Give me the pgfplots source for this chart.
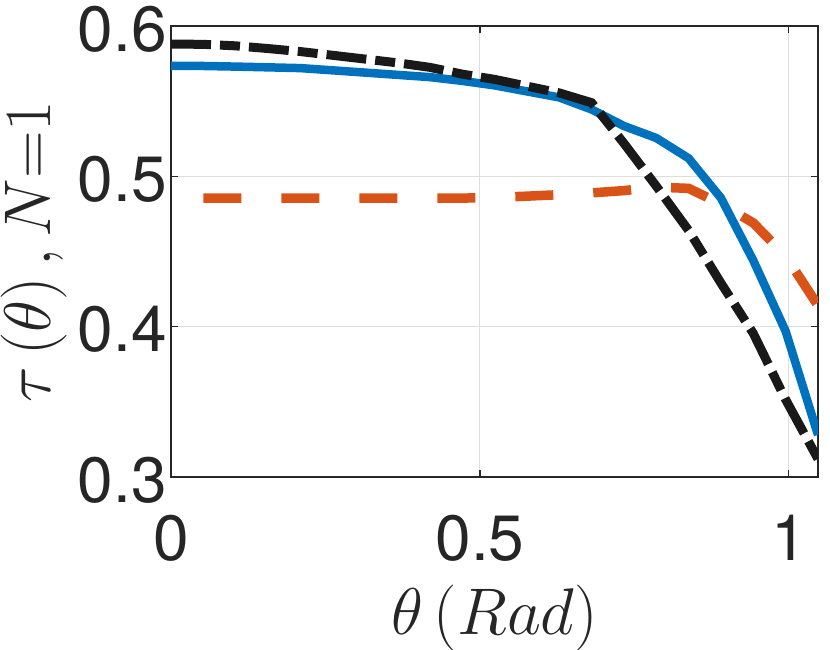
\RequirePackage{fix-cm}
\documentclass[border=0pt]{standalone}
\usepackage[no-math]{fontspec}
\setmainfont{TeX Gyre Heros}
\usepackage{pgfplots}
\pgfplotsset{compat=1.18}
\definecolor{mblue}{rgb}{0,0.447,0.741}
\definecolor{morange}{rgb}{0.85,0.325,0.098}
\definecolor{mblack}{rgb}{0.1,0.1,0.1}
\definecolor{axgray}{rgb}{0.15,0.15,0.15}
\definecolor{gridgray}{rgb}{0.87,0.87,0.87}
\pgfplotstableread{
x y
0 0.5735
0.0524 0.5734
0.1047 0.5730
0.1571 0.5725
0.2094 0.5720
0.2618 0.5705
0.3142 0.5690
0.3665 0.5675
0.4189 0.5660
0.4712 0.5635
0.5236 0.5605
0.5760 0.5565
0.6283 0.5525
0.6807 0.5445
0.7330 0.5335
0.7854 0.5255
0.8378 0.5120
0.8901 0.4856
0.9425 0.4440
0.9948 0.3970
1.0472 0.3280
}\blue
\pgfplotstableread{
x y
0.0524 0.4855
0.1047 0.4855
0.1571 0.4855
0.2094 0.4855
0.2618 0.4855
0.3142 0.4855
0.3665 0.4855
0.4189 0.4855
0.4712 0.4855
0.5236 0.4860
0.5760 0.4868
0.6283 0.4878
0.6807 0.4890
0.7330 0.4905
0.7854 0.4928
0.8378 0.4920
0.8901 0.4816
0.9425 0.4690
0.9948 0.4470
1.0472 0.4140
}\orange
\pgfplotstableread{
x y
0 0.5880
0.0524 0.5878
0.1047 0.5868
0.1571 0.5850
0.2094 0.5830
0.2618 0.5805
0.3142 0.5780
0.3665 0.5755
0.4189 0.5725
0.4712 0.5680
0.5236 0.5645
0.5760 0.5600
0.6283 0.5555
0.6807 0.5490
0.7330 0.5220
0.7854 0.4935
0.8378 0.4640
0.8901 0.4290
0.9425 0.3955
0.9948 0.3515
1.0472 0.3120
}\black
\begin{document}
\begin{tikzpicture}
\begin{axis}[name=ax, scale only axis, width=647bp, height=451bp,
  xmin=0, xmax=1.0472, ymin=0.3, ymax=0.6,
  xtick={0,0.5,1}, ytick={0.3,0.4,0.5,0.6},
  xticklabels={0,0.5,1}, yticklabels={0.3,0.4,0.5,0.6},
  /pgf/number format/assume math mode=true,
  tick align=inside, major tick length=7bp,
  tick style={axgray, line width=1.2bp},
  axis line style={axgray, line width=1.3bp},
  grid=major, major grid style={gridgray, line width=1bp},
  ticklabel style={font=\fontsize{64bp}{70bp}\selectfont, text=axgray},
  xticklabel style={anchor=north, inner sep=0pt, yshift=-38bp},
  yticklabel style={anchor=east, inner sep=0pt, xshift=-4bp, yshift=-3bp},
  label style={font=\fontsize{66bp}{72bp}\selectfont, text=axgray},
  xlabel={$\theta\left(Rad\right)$},
  ylabel={$\tau\left(\theta\right),N{=}1$},
  xlabel style={at={(axis description cs:0.5,-0.3492)}, anchor=base},
  ylabel style={at={(axis description cs:-0.1860,0.5)}, anchor=base},
]
\addplot[mblue, line width=8.5bp, line join=round] table[x=x,y=y]{\blue};
\addplot[morange, line width=9.5bp, dash pattern=on 38bp off 40bp] table[x=x,y=y]{\orange};
\addplot[mblack, line width=9bp, dash pattern=on 40bp off 9bp on 20bp off 9bp] table[x=x,y=y]{\black};
\end{axis}
\pgfresetboundingbox
\path ([xshift=-171bp,yshift=-173bp]ax.south west) rectangle ([xshift=12bp,yshift=26bp]ax.north east);
\end{tikzpicture}
\end{document}
